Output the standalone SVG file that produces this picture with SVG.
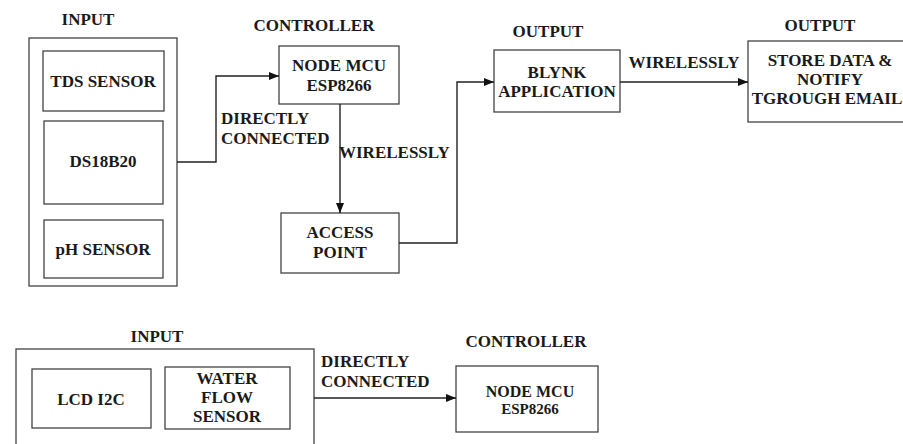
<svg xmlns="http://www.w3.org/2000/svg" width="903" height="444" viewBox="0 0 903 444">
<style>
.box{fill:#fff;stroke:#444;stroke-width:1.3}
.t{font-family:'Liberation Serif','DejaVu Serif','Times New Roman',serif;font-weight:700;font-size:17px;fill:#1a1a1a}
.c{text-anchor:middle}
.ln{fill:none;stroke:#222;stroke-width:1.4}
</style>
<defs>
<marker id="ah" viewBox="0 0 10 8" refX="10" refY="4" markerWidth="10" markerHeight="8" markerUnits="userSpaceOnUse" orient="auto">
<path d="M0,0 L10,4 L0,8 Z" fill="#111"/>
</marker>
</defs>
<rect width="903" height="444" fill="#fff"/>

<g id="input1">
<text class="t c" x="88" y="25">INPUT</text>
<rect class="box" x="29" y="38" width="148" height="248"/>
</g>
<g id="tds"><rect class="box" x="43" y="51" width="121" height="60"/><text class="t c" x="103" y="87">TDS SENSOR</text></g>
<g id="ds18b20"><rect class="box" x="44" y="121" width="119" height="83"/><text class="t c" x="103" y="167">DS18B20</text></g>
<g id="ph"><rect class="box" x="44" y="220" width="119" height="58"/><text class="t c" x="103" y="255">pH SENSOR</text></g>

<g id="controller1">
<text class="t c" x="314" y="31">CONTROLLER</text>
<rect class="box" x="279" y="46" width="120" height="58"/>
<text class="t c" x="339" y="71">NODE MCU</text>
<text class="t c" x="339" y="91">ESP8266</text>
</g>
<g id="access">
<rect class="box" x="281" y="213" width="118" height="60"/>
<text class="t c" x="340" y="238">ACCESS</text>
<text class="t c" x="340" y="258">POINT</text>
</g>
<g id="blynk">
<text class="t c" x="548" y="37">OUTPUT</text>
<rect class="box" x="494" y="50" width="126" height="62"/>
<text class="t c" x="557" y="78">BLYNK</text>
<text class="t c" x="557" y="97">APPLICATION</text>
</g>
<g id="store">
<text class="t c" x="820" y="31">OUTPUT</text>
<rect class="box" x="748" y="41" width="160" height="81"/>
<text class="t c" x="830" y="66">STORE DATA &amp;</text>
<text class="t c" x="830" y="85">NOTIFY</text>
<text class="t c" x="827" y="104">TGROUGH EMAIL</text>
</g>

<g id="input2">
<text class="t c" x="157" y="342">INPUT</text>
<rect class="box" x="16" y="349" width="298" height="110"/>
</g>
<g id="lcd"><rect class="box" x="32" y="369" width="119" height="59"/><text class="t c" x="91" y="405">LCD I2C</text></g>
<g id="waterflow">
<rect class="box" x="165" y="367" width="125" height="62"/>
<text class="t c" x="227" y="384">WATER</text>
<text class="t c" x="227" y="403">FLOW</text>
<text class="t c" x="227" y="422">SENSOR</text>
</g>
<g id="controller2">
<text class="t c" x="526" y="347">CONTROLLER</text>
<rect class="box" x="456" y="366" width="142" height="66"/>
<text class="t c" x="530" y="397" style="font-size:16px">NODE MCU</text>
<text class="t c" x="530" y="414" style="font-size:15px">ESP8266</text>
</g>

<g id="connectors">
<polyline class="ln" points="177,162 216,162 216,76 279,76" marker-end="url(#ah)"/>
<text class="t" x="221" y="124">DIRECTLY</text>
<text class="t" x="221" y="144">CONNECTED</text>
<line class="ln" x1="340" y1="104" x2="340" y2="213" marker-end="url(#ah)"/>
<text class="t" x="339" y="158">WIRELESSLY</text>
<polyline class="ln" points="399,243 457,243 457,82 494,82" marker-end="url(#ah)"/>
<line class="ln" x1="620" y1="82" x2="748" y2="82" marker-end="url(#ah)"/>
<text class="t c" x="684" y="68">WIRELESSLY</text>
<line class="ln" x1="314" y1="398" x2="456" y2="398" marker-end="url(#ah)"/>
<text class="t" x="321" y="367">DIRECTLY</text>
<text class="t" x="321" y="387">CONNECTED</text>
</g>
</svg>
